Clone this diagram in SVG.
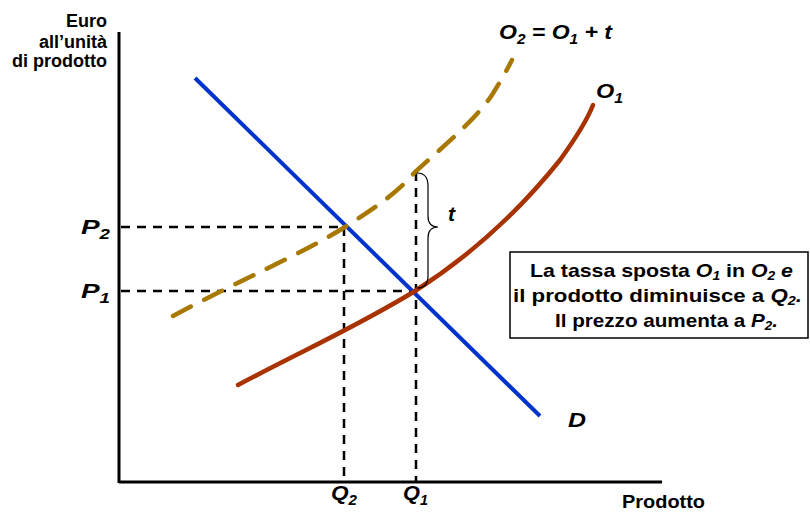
<svg xmlns="http://www.w3.org/2000/svg" width="810" height="513" viewBox="0 0 810 513">
<style>
.lbl{font-family:"Liberation Sans",Arial,sans-serif;font-weight:bold;fill:#000}
.it{font-style:italic}
.guide{stroke:#000;stroke-width:2.5;stroke-dasharray:9,7;fill:none}
.axis{stroke:#000;stroke-width:3;fill:none}
</style>
<rect width="810" height="513" fill="#fff"/>
<g id="axes">
<line class="axis" x1="119" y1="32" x2="119" y2="483"/>
<line class="axis" x1="119" y1="482" x2="662" y2="482"/>
</g>
<g id="connectors">
<line class="guide" x1="121" y1="227" x2="345" y2="227"/>
<line class="guide" x1="121" y1="291" x2="415" y2="291"/>
<line class="guide" x1="344" y1="227" x2="344" y2="481"/>
<line class="guide" x1="416" y1="172" x2="416" y2="481"/>
</g>
<g id="D">
<line x1="195" y1="78" x2="540" y2="416" stroke="#0033cc" stroke-width="4"/>
<text class="lbl it" x="568" y="427" font-size="21" textLength="18" lengthAdjust="spacingAndGlyphs">D</text>
</g>
<g id="O1">
<path d="M238,385 C300,352 360,325 415,291 C470,256 520,210 560,160 C578,135 588,118 593,105" fill="none" stroke="#a83200" stroke-width="4.5" stroke-linecap="round"/>
<text class="lbl it" x="596" y="98" font-size="21" textLength="27" lengthAdjust="spacingAndGlyphs">O<tspan font-size="14" dy="5">1</tspan></text>
</g>
<g id="O2">
<path d="M173,316 C240,280 300,255 345,227 C380,205 400,190 415,172 C445,145 475,120 492,95 C500,82 507,70 512,60" fill="none" stroke="#a87800" stroke-width="4.5" stroke-dasharray="20,15" stroke-linecap="round"/>
<text class="lbl it" x="499" y="39" font-size="21" textLength="113" lengthAdjust="spacingAndGlyphs">O<tspan font-size="14" dy="5">2</tspan><tspan dy="-5"> = O</tspan><tspan font-size="14" dy="5">1</tspan><tspan dy="-5"> + t</tspan></text>
</g>
<g id="brace">
<path d="M417,173 Q428,173 428,186 L428,216 Q428,227 438,227 Q428,227 428,238 L428,276 Q428,288 417,288" fill="none" stroke="#000" stroke-width="1.2"/>
<text class="lbl it" x="448" y="221" font-size="21">t</text>
</g>
<g id="ylabel">
<text class="lbl" x="107" y="27" font-size="18" text-anchor="end">Euro</text>
<text class="lbl" x="107" y="48" font-size="18" text-anchor="end">all’unità</text>
<text class="lbl" x="107" y="67" font-size="18" text-anchor="end">di prodotto</text>
</g>
<g id="ticks">
<text class="lbl it" x="81" y="234" font-size="21" textLength="29" lengthAdjust="spacingAndGlyphs">P<tspan font-size="14" dy="5">2</tspan></text>
<text class="lbl it" x="81" y="298" font-size="21" textLength="29" lengthAdjust="spacingAndGlyphs">P<tspan font-size="14" dy="5">1</tspan></text>
<text class="lbl it" x="331" y="500" font-size="21" textLength="26" lengthAdjust="spacingAndGlyphs">Q<tspan font-size="14" dy="5">2</tspan></text>
<text class="lbl it" x="403" y="500" font-size="21" textLength="25" lengthAdjust="spacingAndGlyphs">Q<tspan font-size="14" dy="5">1</tspan></text>
<text class="lbl" x="622" y="508" font-size="18.5" textLength="83" lengthAdjust="spacingAndGlyphs">Prodotto</text>
</g>
<g id="note">
<rect x="510" y="252" width="298" height="86" fill="#fff" stroke="#000" stroke-width="1.5"/>
<text class="lbl" x="530" y="277" font-size="18.5" textLength="263" lengthAdjust="spacingAndGlyphs">La tassa sposta <tspan class="it">O</tspan><tspan class="it" font-size="12" dy="3">1</tspan><tspan dy="-3"> in </tspan><tspan class="it">O</tspan><tspan class="it" font-size="12" dy="3">2</tspan><tspan class="it" dy="-3"> e</tspan></text>
<text class="lbl" x="513" y="302" font-size="18.5" textLength="289" lengthAdjust="spacingAndGlyphs">il prodotto diminuisce a <tspan class="it">Q</tspan><tspan class="it" font-size="12" dy="3">2</tspan><tspan class="it" dy="-3">.</tspan></text>
<text class="lbl" x="555" y="327" font-size="18.5" textLength="223" lengthAdjust="spacingAndGlyphs">Il prezzo aumenta a <tspan class="it">P</tspan><tspan class="it" font-size="12" dy="3">2</tspan><tspan class="it" dy="-3">.</tspan></text>
</g>
</svg>
